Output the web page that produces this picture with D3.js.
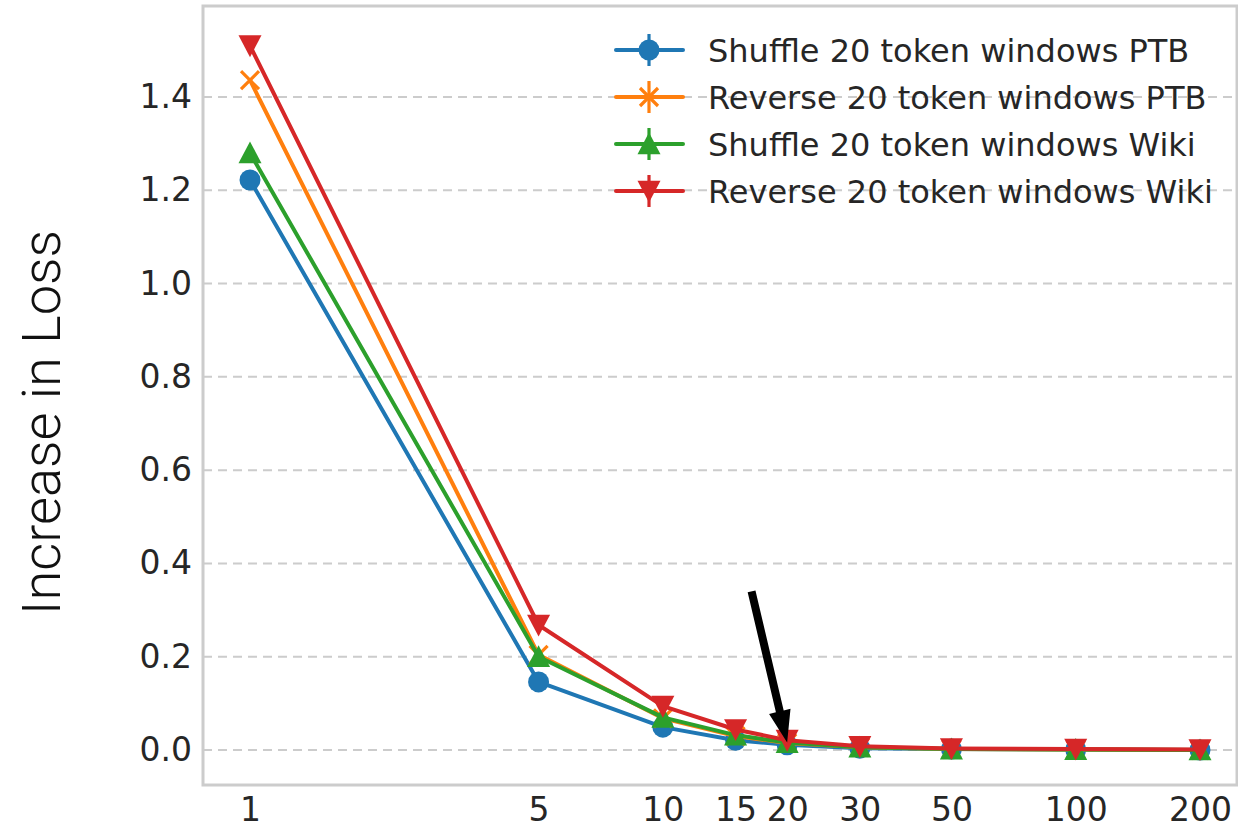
<!DOCTYPE html>
<html>
<head>
<meta charset="utf-8">
<script src="https://cdn.jsdelivr.net/npm/d3@7/dist/d3.min.js"></script>
<style>
  html, body { margin: 0; padding: 0; background: #fff; }
  svg { display: block; }
</style>
</head>
<body>
<svg id="chart" width="1238" height="828"></svg>
<script>
// Window sizes (x positions, log scale)
const windowSizes = [1, 5, 10, 15, 20, 30, 50, 100, 200];
const xTickLabels = ["1", "5", "10", "15", "20", "30", "50", "100", "200"];
const yTicks = [0.0, 0.2, 0.4, 0.6, 0.8, 1.0, 1.2, 1.4];

// Increase in loss for each perturbation
const shufflePTB = [1.222, 0.146, 0.049, 0.021, 0.011, 0.004, 0.002, 0.001, 0.000];
const reversePTB = [1.436, 0.204, 0.068, 0.030, 0.015, 0.006, 0.002, 0.001, 0.000];
const shuffleWiki = [1.280, 0.200, 0.070, 0.032, 0.016, 0.006, 0.002, 0.001, 0.000];
const reverseWiki = [1.510, 0.268, 0.094, 0.044, 0.021, 0.008, 0.003, 0.002, 0.001];

const seriesNames = [
  "Shuffle 20 token windows PTB",
  "Reverse 20 token windows PTB",
  "Shuffle 20 token windows Wiki",
  "Reverse 20 token windows Wiki"
];
const seriesValues = [shufflePTB, reversePTB, shuffleWiki, reverseWiki];
const seriesColors = ["#1f77b4", "#ff7f0e", "#2ca02c", "#d62728"];
const seriesMarkers = ["circle", "x", "triangleUp", "triangleDown"];

// Arrow annotation in data coordinates: [window size, loss]
const arrowTail = [16.4, 0.34];
const arrowTip = [20, 0.016];

const svg = d3.select("#chart");

const x = d3.scaleLog().domain([1, 200]).range([250, 1200]);
const y = d3.scaleLinear().domain([0, 1.4]).range([750, 97]);

const frame = { left: 203, right: 1237, top: 6, bottom: 785 };

// grid lines (horizontal, dashed)
svg.append("g")
  .selectAll("line")
  .data(yTicks)
  .join("line")
  .attr("x1", frame.left).attr("x2", frame.right)
  .attr("y1", d => y(d)).attr("y2", d => y(d))
  .attr("stroke", "#cccccc")
  .attr("stroke-width", 2)
  .attr("stroke-dasharray", "9,6");

// frame
svg.append("rect")
  .attr("x", frame.left).attr("y", frame.top)
  .attr("width", frame.right - frame.left)
  .attr("height", frame.bottom - frame.top)
  .attr("fill", "none")
  .attr("stroke", "#cccccc")
  .attr("stroke-width", 3);

// y axis
const yAxis = d3.axisLeft(y).tickValues(yTicks).tickFormat(d3.format(".1f")).tickSize(0).tickPadding(0);
const gy = svg.append("g").attr("transform", `translate(192,0)`).call(yAxis);
gy.select(".domain").remove();
gy.selectAll("text")
  .attr("font-family", "DejaVu Sans")
  .attr("font-size", 33)
  .attr("fill", "#262626")
  .attr("x", 0);

// x axis
const xAxis = d3.axisBottom(x).tickValues(windowSizes)
  .tickFormat((d, i) => xTickLabels[i]).tickSize(0).tickPadding(0);
const gx = svg.append("g").attr("transform", `translate(0,798)`).call(xAxis);
gx.select(".domain").remove();
gx.selectAll("text")
  .attr("font-family", "DejaVu Sans")
  .attr("font-size", 33)
  .attr("fill", "#262626")
  .attr("dy", "0.71em")
  .attr("y", 0);

// y label
svg.append("text")
  .attr("transform", `translate(60,${(230 + 615) / 2}) rotate(-90)`)
  .attr("text-anchor", "middle")
  .attr("font-family", "Roboto")
  .attr("font-weight", 300)
  .attr("font-size", 54)
  .attr("textLength", 385)
  .attr("lengthAdjust", "spacingAndGlyphs")
  .attr("fill", "#111")
  .text("Increase in Loss");

// marker drawing
function drawMarker(g, type, color, cx, cy) {
  if (type === "circle") {
    g.append("circle").attr("cx", cx).attr("cy", cy).attr("r", 10.5).attr("fill", color);
  } else if (type === "x") {
    const s = 9;
    g.append("path")
      .attr("d", `M${cx - s},${cy - s}L${cx + s},${cy + s}M${cx - s},${cy + s}L${cx + s},${cy - s}`)
      .attr("stroke", color).attr("stroke-width", 3.2).attr("fill", "none");
  } else if (type === "triangleUp") {
    const s = 11.5;
    g.append("path")
      .attr("d", `M${cx},${cy - s}L${cx + s},${cy + s * 0.9}L${cx - s},${cy + s * 0.9}Z`)
      .attr("fill", color);
  } else if (type === "triangleDown") {
    const s = 11.5;
    g.append("path")
      .attr("d", `M${cx},${cy + s}L${cx + s},${cy - s * 0.9}L${cx - s},${cy - s * 0.9}Z`)
      .attr("fill", color);
  }
}

const line = d3.line().x(d => x(d[0])).y(d => y(d[1]));

seriesValues.forEach((vals, si) => {
  const pts = windowSizes.map((w, i) => [w, vals[i]]);
  const g = svg.append("g");
  g.append("path")
    .datum(pts)
    .attr("d", line)
    .attr("fill", "none")
    .attr("stroke", seriesColors[si])
    .attr("stroke-width", 4)
    .attr("stroke-linejoin", "round");
  pts.forEach(p => drawMarker(g, seriesMarkers[si], seriesColors[si], x(p[0]), y(p[1])));
});

// arrow annotation
(function () {
  const x0 = x(arrowTail[0]), y0 = y(arrowTail[1]);
  const x1 = x(arrowTip[0]), y1 = y(arrowTip[1]);
  const dx = x1 - x0, dy = y1 - y0;
  const len = Math.hypot(dx, dy);
  const ux = dx / len, uy = dy / len;
  const px = -uy, py = ux;
  const headLen = 32, headW = 11, shaftW = 4;
  const bx = x1 - ux * headLen, by = y1 - uy * headLen;
  const d = [
    [x0 + px * shaftW, y0 + py * shaftW],
    [bx + px * shaftW, by + py * shaftW],
    [bx + px * headW, by + py * headW],
    [x1, y1],
    [bx - px * headW, by - py * headW],
    [bx - px * shaftW, by - py * shaftW],
    [x0 - px * shaftW, y0 - py * shaftW]
  ];
  svg.append("path")
    .attr("d", "M" + d.map(p => p.join(",")).join("L") + "Z")
    .attr("fill", "#000");
})();

// legend
const legend = svg.append("g");
const legendRows = [50, 97, 144, 191];
seriesNames.forEach((name, i) => {
  const ly = legendRows[i];
  const c = seriesColors[i];
  legend.append("line").attr("x1", 616).attr("x2", 683).attr("y1", ly).attr("y2", ly)
    .attr("stroke", c).attr("stroke-width", 4).attr("stroke-linecap", "round");
  legend.append("line").attr("x1", 649).attr("x2", 649).attr("y1", ly - 16).attr("y2", ly + 16)
    .attr("stroke", c).attr("stroke-width", 3.2);
  drawMarker(legend, seriesMarkers[i], c, 649, ly);
  legend.append("text")
    .attr("x", 708).attr("y", ly)
    .attr("dy", "0.36em")
    .attr("font-family", "DejaVu Sans")
    .attr("font-size", 32)
    .attr("fill", "#262626")
    .text(name);
});
</script>
</body>
</html>
